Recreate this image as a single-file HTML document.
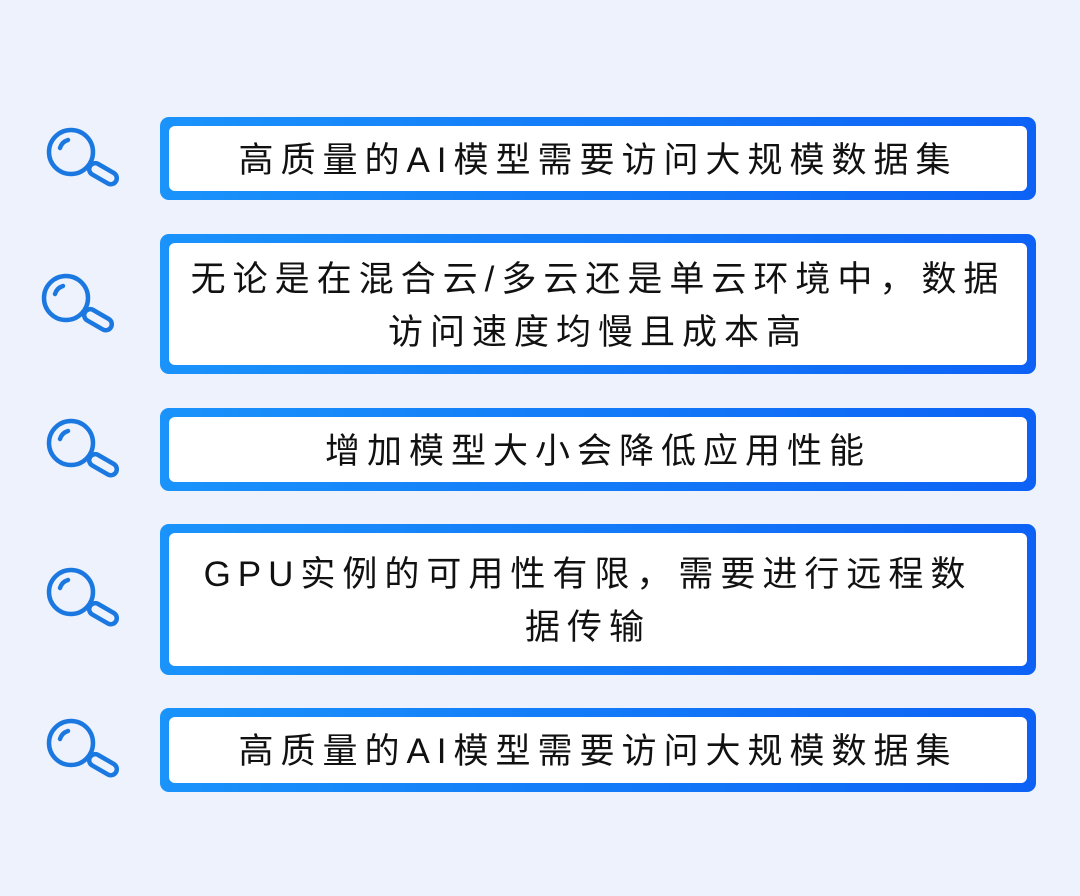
<!DOCTYPE html>
<html><head><meta charset="utf-8"><style>
body{margin:0;width:1080px;height:896px;background:#edf2fc;position:relative;overflow:hidden;font-family:"Liberation Sans","Noto Sans CJK SC",sans-serif;}
.box{position:absolute;left:160px;width:876px;border-radius:9px;background:linear-gradient(90deg,#1a93fb,#0d62f5);box-sizing:border-box;padding:9px;}
.in{width:100%;height:100%;background:#fff;border-radius:6px;display:flex;align-items:center;justify-content:center;text-align:center;font-size:35px;letter-spacing:7px;line-height:53px;color:#111;box-sizing:border-box;padding-top:3px;}
svg{position:absolute;}
</style></head><body>
<div class="box" style="top:117px;height:83px"><div class="in">高质量的AI模型需要访问大规模数据集</div></div>
<div class="box" style="top:234px;height:140px"><div class="in">无论是在混合云/多云还是单云环境中，数据<br>访问速度均慢且成本高</div></div>
<div class="box" style="top:408px;height:83px"><div class="in">增加模型大小会降低应用性能</div></div>
<div class="box" style="top:524px;height:151px"><div class="in" style="padding-right:20px">GPU实例的可用性有限，需要进行远程数<br>据传输</div></div>
<div class="box" style="top:708px;height:84px"><div class="in">高质量的AI模型需要访问大规模数据集</div></div>
<svg width="1080" height="896" style="left:0;top:0">
<defs><g id="m" fill="none" stroke="#1b78e0" stroke-width="4.5" stroke-linecap="round">
<circle cx="0" cy="0" r="22"/>
<path d="M-11,-4 A12,12 0 0 1 -3,-12"/>
<rect x="22" y="9" width="30" height="12" rx="6" transform="rotate(30 22 9)"/>
</g></defs>
<use href="#m" x="71" y="152"/>
<use href="#m" x="66" y="298"/>
<use href="#m" x="71" y="443"/>
<use href="#m" x="71" y="592"/>
<use href="#m" x="71" y="743"/>
</svg>
</body></html>
